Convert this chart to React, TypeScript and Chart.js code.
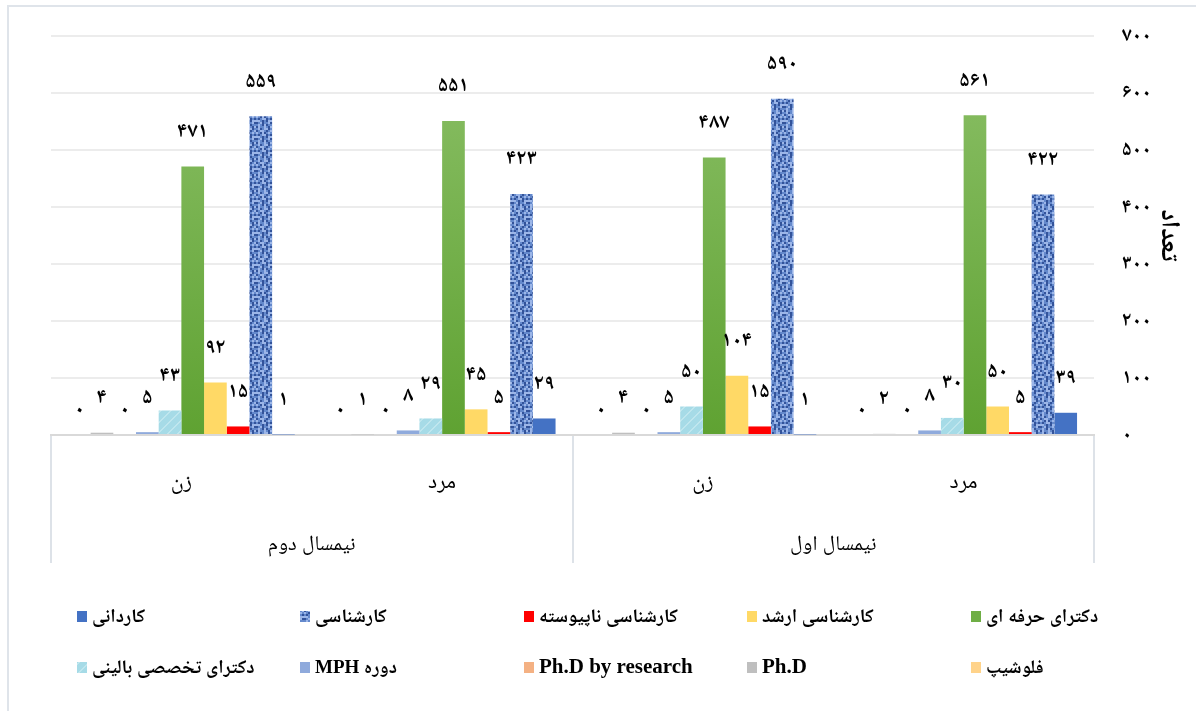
import React, { useEffect, useRef } from 'react';
import { Chart, registerables } from 'chart.js';

Chart.register(...registerables);

// ---------- data ----------
const genders = ['مرد', 'زن', 'مرد', 'زن'];
const semesters = ['نیمسال اول', 'نیمسال دوم'];

const seriesNames = [
  'کاردانی',
  'کارشناسی',
  'کارشناسی ناپیوسته',
  'کارشناسی ارشد',
  'دکترای حرفه ای',
  'دکترای تخصصی بالینی',
  'دوره MPH',
  'Ph.D by research',
  'Ph.D',
  'فلوشیپ',
];

const kardani = [39, 1, 29, 1];
const karshenasi = [422, 590, 423, 559];
const napeyvasteh = [5, 15, 5, 15];
const arshad = [50, 104, 45, 92];
const herfeei = [561, 487, 551, 471];
const balini = [30, 50, 29, 43];
const mph = [8, 5, 8, 5];
const phdResearch = [0, 0, 0, 0];
const phd = [2, 4, 1, 4];
const fellowship = [0, 0, 0, 0];

const seriesValues = [kardani, karshenasi, napeyvasteh, arshad, herfeei, balini, mph, phdResearch, phd, fellowship];

const yMax = 700;
const yStep = 100;
const yTitle = 'تعداد';

// ---------- helpers ----------
const faDigits = '۰۱۲۳۴۵۶۷۸۹';
const toFa = (n: number | string) => String(n).replace(/\d/g, (d) => faDigits[+d]);

const FONT = '"Liberation Serif", "Noto Naskh Arabic", "Noto Sans Arabic", "Amiri", "DejaVu Sans", serif';

function makeDenim(): CanvasPattern | string {
  const map = [
    'abcabbca',
    'cabbacab',
    'bacbcaba',
    'acabbcac',
    'bbacacbb',
    'cabcaabc',
    'abacbcaa',
    'cbaabacb',
  ];
  const pal: Record<string, string> = { a: '#6489cc', b: '#9cb6e8', c: '#33539a' };
  const cell = 2;
  const c = document.createElement('canvas');
  c.width = 8 * cell;
  c.height = 8 * cell;
  const g = c.getContext('2d')!;
  map.forEach((row, y) => {
    row.split('').forEach((ch, x) => {
      g.fillStyle = pal[ch];
      g.fillRect(x * cell, y * cell, cell, cell);
    });
  });
  return g.createPattern(c, 'repeat') || '#6489cc';
}

function makeHatch(): CanvasPattern | string {
  const c = document.createElement('canvas');
  c.width = 10;
  c.height = 10;
  const g = c.getContext('2d')!;
  g.fillStyle = '#a6dbe7';
  g.fillRect(0, 0, 10, 10);
  g.fillStyle = '#bfe6ee';
  for (let y = 0; y < 10; y++) {
    for (let x = 0; x < 10; x++) {
      if ((x + y) % 10 === 0 || (x + y) % 10 === 1) g.fillRect(x, y, 1, 1);
    }
  }
  return g.createPattern(c, 'repeat') || '#a6dbe7';
}

const legendCols = [77, 300, 524, 747, 971];
const legendRows = [611, 662];

export default function App() {
  const ref = useRef<HTMLCanvasElement | null>(null);

  useEffect(() => {
    if (!ref.current) return;
    const denim = makeDenim();
    const hatch = makeHatch();

    const greenFill = (ctx: any) => {
      const area = ctx.chart.chartArea;
      if (!area) return '#6aaa3f';
      const gr = ctx.chart.ctx.createLinearGradient(0, area.top, 0, area.bottom);
      gr.addColorStop(0, '#8cc068');
      gr.addColorStop(1, '#5fa232');
      return gr;
    };

    const fills: any[] = [
      '#4472c4',
      denim,
      '#ff0000',
      '#ffd966',
      greenFill,
      hatch,
      '#8faadc',
      '#f4b183',
      '#bfbfbf',
      '#ffd38a',
    ];
    const legendFills: any[] = [
      '#4472c4',
      denim,
      '#ff0000',
      '#ffd966',
      '#6fae45',
      hatch,
      '#8faadc',
      '#f4b183',
      '#bfbfbf',
      '#ffd38a',
    ];

    const valueLabels = {
      id: 'valueLabels',
      afterDatasetsDraw(chart: any) {
        const c = chart.ctx;
        c.save();
        c.font = `bold 21px ${FONT}`;
        c.fillStyle = '#000';
        c.textAlign = 'center';
        c.textBaseline = 'middle';
        chart.data.datasets.forEach((ds: any, i: number) => {
          const meta = chart.getDatasetMeta(i);
          meta.data.forEach((bar: any, j: number) => {
            const v = ds.data[j];
            const off = v === 0 ? 25 : 35;
            c.fillText(toFa(v), bar.x, bar.y - off);
          });
        });
        c.restore();
      },
    };

    const gridLegend = {
      id: 'gridLegend',
      afterDraw(chart: any) {
        const c = chart.ctx;
        c.save();
        c.textBaseline = 'middle';
        c.textAlign = 'left';
        (c as any).direction = 'rtl';
        seriesNames.forEach((name, i) => {
          const col = i % 5;
          const row = Math.floor(i / 5);
          const x = legendCols[col];
          const y = legendRows[row];
          c.fillStyle = legendFills[i];
          c.fillRect(x, y, 10, 11);
          c.fillStyle = '#000';
          c.font = /^[A-Za-z.\s]+$/.test(name) ? `bold 21px ${FONT}` : `bold 19px ${FONT}`;
          c.fillText(name, x + 15, y + 6);
        });
        c.restore();
      },
    };

    // datasets listed right-to-left inside each group (first series at the right)
    const order = seriesNames.map((_, i) => i).reverse();

    const chart = new Chart(ref.current, {
      type: 'bar',
      data: {
        labels: genders,
        datasets: order.map((i) => ({
          label: seriesNames[i],
          data: seriesValues[i],
          backgroundColor: fills[i],
          borderWidth: 0,
          categoryPercentage: 0.87,
          barPercentage: 1,
          xAxisID: 'x',
          yAxisID: 'y',
        })),
      },
      options: {
        responsive: false,
        animation: false,
        layout: { padding: { left: 51, right: 0, top: 36, bottom: 148 } },
        plugins: {
          legend: { display: false },
          tooltip: { enabled: false },
        },
        scales: {
          x: {
            type: 'category',
            position: 'bottom',
            reverse: true,
            offset: true,
            weight: 0,
            grid: {
              display: true,
              offset: true,
              drawOnChartArea: false,
              drawTicks: true,
              tickLength: 64,
              lineWidth: 2,
              color: (ctx: any) =>
                ctx.type !== 'tick' || ctx.index % 2 === 0 ? '#dde2e8' : 'rgba(0,0,0,0)',
            },
            border: { display: true, color: '#d9d9d9', width: 2 },
            ticks: {
              padding: -30,
              color: '#000',
              font: { family: FONT, size: 22 },
              maxRotation: 0,
              autoSkip: false,
            },
            afterFit: (s: any) => {
              s.height = 64;
            },
          },
          x2: {
            type: 'category',
            position: 'bottom',
            labels: semesters,
            reverse: true,
            offset: true,
            weight: 1,
            grid: {
              display: true,
              offset: true,
              drawOnChartArea: false,
              drawTicks: true,
              tickLength: 64,
              lineWidth: 2,
              color: '#dde2e8',
            },
            border: { display: false },
            ticks: {
              padding: -31,
              color: '#000',
              font: { family: FONT, size: 21 },
              maxRotation: 0,
              autoSkip: false,
            },
            afterFit: (s: any) => {
              s.height = 64;
            },
          },
          y: {
            position: 'right',
            min: 0,
            max: yMax,
            ticks: {
              stepSize: yStep,
              padding: 28,
              color: '#000',
              font: { family: FONT, size: 20, weight: 'bold' },
              callback: (v: any) => toFa(v),
            },
            grid: { color: '#ececec', lineWidth: 2, drawTicks: false },
            border: { display: false },
            title: {
              display: true,
              text: yTitle,
              color: '#000',
              font: { family: FONT, size: 26, weight: 'bold' },
              padding: { top: 12, bottom: 0 },
            },
            afterFit: (s: any) => {
              s.width = 102;
              s.paddingTop = 0;
              s.paddingBottom = 0;
            },
          },
        },
      },
      plugins: [valueLabels, gridLegend],
    });

    return () => chart.destroy();
  }, []);

  return (
    <div style={{ position: 'fixed', left: 0, top: 0, width: 1196, height: 711, background: '#fff', overflow: 'hidden' }}>
      <div
        style={{
          position: 'absolute',
          left: 7,
          top: 5,
          width: 1300,
          height: 800,
          border: '2px solid #dfe4ea',
          boxSizing: 'border-box',
        }}
      />
      <canvas ref={ref} width={1196} height={711} style={{ position: 'absolute', left: 0, top: 0, width: 1196, height: 711 }} />
    </div>
  );
}
